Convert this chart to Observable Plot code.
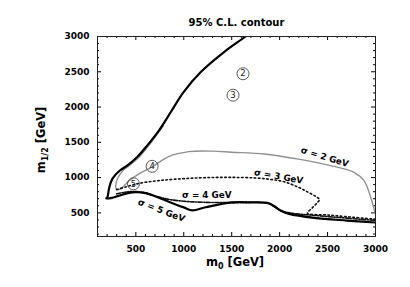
<!DOCTYPE html>
<html><head>
<meta charset="utf-8">
<script src="https://cdn.jsdelivr.net/npm/d3@7"></script>
<script src="https://cdn.jsdelivr.net/npm/@observablehq/plot@0.6"></script>
<style>
body{margin:0;background:#fff;}
#chart{position:absolute;left:0;top:0;}
</style>
</head><body><div id="chart"></div>
<script>
// Thick black: 95% C.L. contour with sigma = 5 GeV lower edge
const thickM0  = [1680,1645,1420,1180,1000,865,742,620,517,420,333,256,221,204,192,250,325,465,600,700,850,1000,1090,1230,1500,1700,1888,1950,2010,2100,2360,2700,3000];
const thickM12 = [3040,3000,2780,2500,2215,1930,1670,1457,1295,1180,1100,985,850,725,705,712,745,790,780,735,655,578,535,580,648,648,636,590,533,486,430,391,363];
// sigma = 4 GeV (dash-dot)
const s4M0  = [300,420,520,600,700,850,1000,1200,1500,1870,1940,2010,2100,2400,2700,3000];
const s4M12 = [770,800,800,785,740,690,665,650,645,638,590,530,500,460,425,392];
// sigma = 3 GeV (dotted)
const s3M0  = [300,400,480,560,760,1000,1250,1500,1750,1900,2050,2200,2300,2380,2415,2390,2340,2290,2500,2750,3000];
const s3M12 = [830,870,900,925,960,985,1000,1003,995,975,940,860,790,730,690,640,570,495,470,440,410];
// sigma = 2 GeV (gray)
const s2M0  = [790,650,540,440,360,310,290,300,345,430,533,680,846,1054,1300,1500,1840,2180,2530,2775,2880,2950,2990,3010];
const s2M12 = [1740,1480,1300,1180,1090,990,880,828,845,955,1052,1160,1300,1368,1375,1360,1335,1265,1170,1075,957,720,530,440];
// circled point markers
const markLabels = ["2","3","4","5"];
const markM0  = [1618,1514,670,475];
const markM12 = [2472,2168,1160,912];
// curve labels
const curveLabels = ["σ = 2 GeV","σ = 3 GeV","σ = 4 GeV","σ = 5 GeV"];
const curveLabelM0  = [2470,1990,1240,767];
const curveLabelM12 = [1290,1015,757,533];
const curveLabelRot = [17,10,0,21];
// ticks
const xMajor = [500,1000,1500,2000,2500,3000];
const yMajor = [500,1000,1500,2000,2500,3000];
const xMinor = d3.range(200,3000,100).filter(v => v % 500 !== 0);
const yMinor = d3.range(200,3000,100).filter(v => v % 500 !== 0);
const title = "95% C.L. contour";

const toPts = (a,b) => a.map((v,i)=>({m0:v, m12:b[i]}));
const thick = toPts(thickM0, thickM12);
const s4 = toPts(s4M0, s4M12);
const s3 = toPts(s3M0, s3M12);
const s2 = toPts(s2M0, s2M12);
const marks = markLabels.map((t,i)=>({t, m0:markM0[i], m12:markM12[i]}));
const clabels = curveLabels.map((t,i)=>({t, m0:curveLabelM0[i], m12:curveLabelM12[i], r:curveLabelRot[i]}));

const W=410, H=287, mL=97, mR=35, mT=36, mB=51;
const pw = W-mL-mR, ph = H-mT-mB;
const font = "'DejaVu Sans', Verdana, sans-serif";

const plot = Plot.plot({
  width: W, height: H,
  marginLeft: mL, marginRight: mR, marginTop: mT, marginBottom: mB,
  style: {fontFamily: font, fontSize: "9px", background: "#fff", color: "#000"},
  x: {domain: [100, 3000]},
  y: {domain: [165, 3000]},
  marks: [
    Plot.axisX(xMajor, {tickSize: 0, tickPadding: 9, tickFormat: "d", fontWeight: "bold", fontSize: 9, label: null}),
    Plot.axisY(yMajor, {tickSize: 0, tickPadding: 8, tickFormat: "d", fontWeight: "bold", fontSize: 9, label: null}),
    // inward ticks on all four sides
    Plot.tickX(xMajor, {x: d=>d, insetTop: ph-4}),
    Plot.tickX(xMinor, {x: d=>d, insetTop: ph-2}),
    Plot.tickX(xMajor, {x: d=>d, insetBottom: ph-4}),
    Plot.tickX(xMinor, {x: d=>d, insetBottom: ph-2}),
    Plot.tickY(yMajor, {y: d=>d, insetRight: pw-4}),
    Plot.tickY(yMinor, {y: d=>d, insetRight: pw-2}),
    Plot.tickY(yMajor, {y: d=>d, insetLeft: pw-4}),
    Plot.tickY(yMinor, {y: d=>d, insetLeft: pw-2}),
    Plot.line(s2, {x:"m0", y:"m12", stroke:"#909090", strokeWidth:1.4, curve:"catmull-rom", clip:true}),
    Plot.line(s3, {x:"m0", y:"m12", stroke:"#111", strokeWidth:1.6, strokeDasharray:"1.6,2.6", curve:"catmull-rom", clip:true}),
    Plot.line(s4, {x:"m0", y:"m12", stroke:"#111", strokeWidth:1.6, strokeDasharray:"4,1.5,1.3,1.5", curve:"catmull-rom", clip:true}),
    Plot.line(thick, {x:"m0", y:"m12", stroke:"#000", strokeWidth:2.2, curve:"catmull-rom", clip:true}),
    Plot.dot(marks, {x:"m0", y:"m12", r:6, stroke:"#333", strokeWidth:0.8, fill:"none"}),
    Plot.text(marks, {x:"m0", y:"m12", text:"t", fontSize:8.5, fill:"#222"}),
    Plot.text(clabels, {x:"m0", y:"m12", text:"t", rotate:"r", fontSize:8.8, fontWeight:"bold", fill:"#000"}),
    Plot.frame({stroke:"#222", strokeWidth:1}),
    Plot.text([title], {frameAnchor:"top", dy:-18, fontSize:10, fontWeight:"bold"})
  ]
});
document.getElementById("chart").appendChild(plot);

// axis titles with subscripts
const svg = d3.select(plot);
const xl = svg.append("text")
  .attr("x", 235).attr("y", 265.5)
  .attr("text-anchor", "middle")
  .attr("font-family", font).attr("font-size", 11.5).attr("font-weight", "bold");
xl.append("tspan").text("m");
xl.append("tspan").attr("font-size", 8).attr("dy", 3).text("0");
xl.append("tspan").attr("dy", -3).text(" [GeV]");

const yl = svg.append("text")
  .attr("transform", "translate(44.5,140) rotate(-90)")
  .attr("text-anchor", "middle")
  .attr("font-family", font).attr("font-size", 11.5).attr("font-weight", "bold");
yl.append("tspan").text("m");
yl.append("tspan").attr("font-size", 8).attr("dy", 3).text("1/2");
yl.append("tspan").attr("dy", -3).text(" [GeV]");
</script>
</body></html>
